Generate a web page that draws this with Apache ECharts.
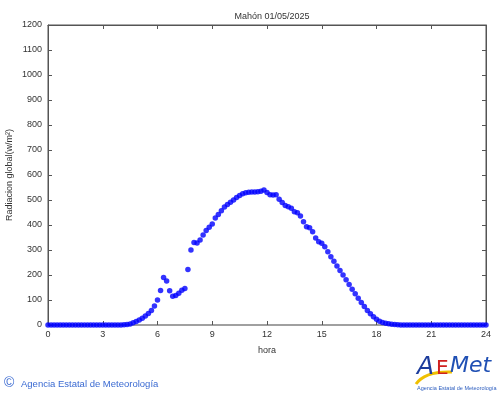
<!DOCTYPE html>
<html><head><meta charset="utf-8">
<script src="https://cdn.jsdelivr.net/npm/echarts@6/dist/echarts.min.js"></script>
<style>html,body{margin:0;padding:0;background:#fff}#c{width:500px;height:395px}</style>
</head><body><div id="c"></div>
<script>
const chartTitle = 'Mahón 01/05/2025';
const xAxisName = 'hora';
const yAxisName = 'Radiacion global(w/m²)';
const footerText = 'Agencia Estatal de Meteorología';
const xTickValues = [0, 3, 6, 9, 12, 15, 18, 21, 24];
const yTickValues = [0, 100, 200, 300, 400, 500, 600, 700, 800, 900, 1000, 1100, 1200];
const stepMinutes = 10; // one reading every 10 minutes, 00:00 .. 24:00
const radiation = [
  0,0,0,0,0,0,0,0,0,0,0,0,0,0,0,0,0,0,0,0,0,0,0,0,0,
  1,2,4,9,14,20,27,36,46,58,76,100,138,190,176,137,115,118,127,139,146,222,300,
  330,328,340,360,378,391,404,428,442,457,472,482,491,500,510,518,525,529,531,532,532,533,535,540,
  530,521,520,521,503,490,478,473,467,453,449,436,413,393,389,373,348,333,327,313,293,273,255,236,
  218,200,181,162,143,125,107,90,74,58,45,33,23,15,10,7,5,3,2,1,
  0,0,0,0,0,0,0,0,0,0,0,0,0,0,0,0,0,0,0,0,0,0,0,0,0,0,0,0,0
];

const FONT = 'Liberation Sans';
const points = radiation.map((v, i) => [i * stepMinutes / 60, v]);
const chart = echarts.init(document.getElementById('c'), null, {renderer: 'canvas'});
const xMin = xTickValues[0], xMax = xTickValues[xTickValues.length - 1];
const yMin = yTickValues[0], yMax = yTickValues[yTickValues.length - 1];
const xInt = xTickValues[1] - xTickValues[0], yInt = yTickValues[1] - yTickValues[0];
const plain = v => String(v);
const tick = {show: true, inside: true, length: 4, lineStyle: {color: '#555', width: 1}};

chart.setOption({
  animation: false,
  backgroundColor: '#fff',
  title: {
    text: chartTitle, left: 267, top: 7, textAlign: 'center',
    textStyle: {fontFamily: FONT, fontSize: 9, fontWeight: 'normal', color: '#333'}
  },
  grid: {left: 48, right: 14, top: 25, bottom: 70, containLabel: false, outerBoundsMode: 'none',
         show: true, borderColor: '#555', borderWidth: 1, backgroundColor: 'transparent'},
  xAxis: [{
    type: 'value', min: xMin, max: xMax, interval: xInt, position: 'bottom',
    name: xAxisName, nameLocation: 'middle', nameGap: 21,
    nameTextStyle: {fontFamily: FONT, fontSize: 9, color: '#333'},
    axisLine: {show: true, onZero: false, lineStyle: {color: '#a0a0a0', width: 2}},
    axisTick: tick,
    axisLabel: {fontFamily: FONT, fontSize: 9, color: '#333', margin: 5, formatter: plain},
    splitLine: {show: false}
  }, {
    type: 'value', min: xMin, max: xMax, interval: xInt, position: 'top',
    axisLine: {show: true, onZero: false, lineStyle: {color: '#555', width: 1}},
    axisTick: tick, axisLabel: {show: false}, splitLine: {show: false}
  }],
  yAxis: [{
    type: 'value', min: yMin, max: yMax, interval: yInt, position: 'left',
    name: yAxisName, nameLocation: 'middle', nameGap: 34, nameRotate: 90, nameMoveOverlap: false,
    nameTextStyle: {fontFamily: FONT, fontSize: 9, color: '#333'},
    axisLine: {show: true, onZero: false, lineStyle: {color: '#555', width: 1}},
    axisTick: tick,
    axisLabel: {fontFamily: FONT, fontSize: 9, color: '#333', margin: 6, formatter: plain},
    splitLine: {show: false}
  }, {
    type: 'value', min: yMin, max: yMax, interval: yInt, position: 'right',
    axisLine: {show: true, onZero: false, lineStyle: {color: '#555', width: 1}},
    axisTick: tick, axisLabel: {show: false}, splitLine: {show: false}
  }],
  series: [{
    type: 'scatter', data: points, symbol: 'circle', symbolSize: 5.5, clip: false,
    itemStyle: {color: '#0000ff'}, z: 5
  }],
  graphic: [
    {type: 'text', left: 4, top: 376, style: {text: '©', fontFamily: FONT, fontSize: 14, fill: '#3a6ad2'}},
    {type: 'text', left: 21, top: 379, style: {text: footerText, fontFamily: FONT, fontSize: 9.5, fill: '#3a6ad2'}},
    {type: 'bezierCurve', shape: {x1: 416, y1: 384, cpx1: 425, cpy1: 371, x2: 452, y2: 372}, style: {stroke: '#f0c000', lineWidth: 3, fill: null}},
    {type: 'text', x: 417, y: 355, style: {text: 'A', fontFamily: 'DejaVu Sans', fontStyle: 'italic', fontSize: 25, fill: '#1c3c9c'}},
    {type: 'text', x: 436, y: 359, style: {text: 'E', fontFamily: 'DejaVu Sans', fontSize: 20, fill: '#d02020'}},
    {type: 'text', x: 450, y: 355, style: {text: 'Met', fontFamily: 'DejaVu Sans', fontStyle: 'italic', fontSize: 22, fill: '#2050b4'}},
    {type: 'text', x: 417, y: 385, style: {text: footerText, fontFamily: FONT, fontSize: 5.5, fill: '#3060c0'}}
  ]
});
</script></body></html>
